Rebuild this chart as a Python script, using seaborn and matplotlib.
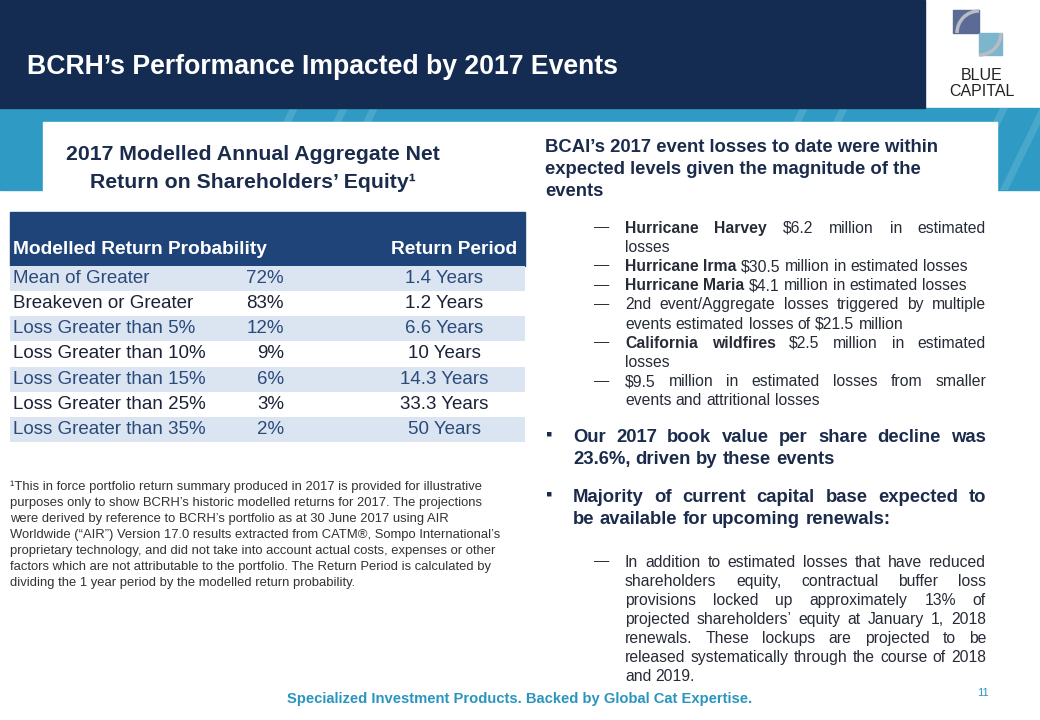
import numpy as np
import pandas as pd
import seaborn as sns
import matplotlib
matplotlib.use("Agg")
import matplotlib.pyplot as plt
from matplotlib.colors import ListedColormap
from matplotlib.patches import Rectangle, Polygon, Arc
from matplotlib.font_manager import FontProperties
from matplotlib.transforms import blended_transform_factory

sns.set_theme(style="white")
plt.rcParams['font.family'] = ['Liberation Sans', 'DejaVu Sans']
plt.rcParams['text.parse_math'] = False

# table data
categories = ["Mean of Greater", "Breakeven or Greater", "Loss Greater than 5%",
              "Loss Greater than 10%", "Loss Greater than 15%", "Loss Greater than 25%",
              "Loss Greater than 35%"]
probabilities = [72, 83, 12, 9, 6, 3, 2]
return_periods = [1.4, 1.2, 6.6, 10, 14.3, 33.3, 50]
col_headers = ["Modelled Return Probability", "Return Period"]

title = "BCRH’s Performance Impacted by 2017 Events"
left_heading = ["2017 Modelled Annual Aggregate Net", "Return on Shareholders’ Equity¹"]
right_heading = ["BCAI’s 2017 event losses to date were within",
                 "expected levels given the magnitude of the", "events"]
footnote = [
    "¹This in force portfolio return summary produced in 2017 is provided for illustrative",
    "purposes only to show BCRH’s historic modelled returns for 2017. The projections",
    "were derived by reference to BCRH’s portfolio as at 30 June 2017 using AIR",
    "Worldwide (“AIR”) Version 17.0 results extracted from CATM®, Sompo International’s",
    "proprietary technology, and did not take into account actual costs, expenses or other",
    "factors which are not attributable to the portfolio. The Return Period is calculated by",
    "dividing the 1 year period by the modelled return probability.",
]
# each item: list of lines, each line a list of (text, bold) segments
loss_items = [
    [[("Hurricane Harvey", True), ("$6.2 million in estimated", False)], [("losses", False)]],
    [[("Hurricane Irma", True), ("$30.5 million in estimated losses", False)]],
    [[("Hurricane Maria", True), ("$4.1 million in estimated losses", False)]],
    [[("2nd event/Aggregate losses triggered by multiple", False)],
     [("events estimated losses of $21.5 million", False)]],
    [[("California wildfires", True), ("$2.5 million in estimated", False)], [("losses", False)]],
    [[("$9.5 million in estimated losses from smaller", False)],
     [("events and attritional losses", False)]],
]
main_bullets = [
    [[("Our 2017 book value per share decline was", True)], [("23.6%, driven by these events", True)]],
    [[("Majority of current capital base expected to", True)],
     [("be available for upcoming renewals:", True)]],
]
lockup_item = [
    [("In addition to estimated losses that have reduced", False)],
    [("shareholders equity, contractual buffer loss", False)],
    [("provisions locked up approximately 13% of", False)],
    [("projected shareholders’ equity at January 1, 2018", False)],
    [("renewals. These lockups are projected to be", False)],
    [("released systematically through the course of 2018", False)],
    [("and 2019.", False)],
]
footer = "Specialized Investment Products. Backed by Global Cat Expertise."

NAVY = "#142b52"
BAND = "#2f9bc4"
HEAD = "#1f4479"
STRIPE = "#dbe5f1"
INK = "#1b2b4b"
BODY = "#262b36"
TEAL = "#2a95bf"

fig = plt.figure(figsize=(10.4, 7.2), dpi=100)
ax = fig.add_axes([0, 0, 1, 1])
ax.set_xlim(0, 1040)
ax.set_ylim(720, 0)
ax.axis('off')
renderer = fig.canvas.get_renderer()


def text_width(s, size, bold):
    fp = FontProperties(family='Liberation Sans', size=size, weight='bold' if bold else 'normal')
    w, h, d = renderer.get_text_width_height_descent(s, fp, ismath=False)
    return w


def draw_line(segs, x0, x1, y, size, justify, color):
    words = [(w, b) for t, b in segs for w in t.split()]
    ws = [text_width(w, size, b) for w, b in words]
    if justify and len(words) > 1:
        gap = (x1 - x0 - sum(ws)) / (len(words) - 1)
    else:
        gap = text_width("x x", size, False) - text_width("xx", size, False)
    base = y + 0.36 * size * 100 / 72
    x = x0
    for (w, b), wd in zip(words, ws):
        ax.text(x, base, w, fontsize=size, fontweight='bold' if b else 'normal',
                color=color, ha='left', va='baseline')
        x += wd + gap


def draw_paragraph(lines, x0, x1, y0, step, size, color):
    for k, segs in enumerate(lines):
        draw_line(segs, x0, x1, y0 + k * step, size, k < len(lines) - 1, color)


# header and band
ax.add_patch(Rectangle((0, 108), 1040, 82, color=BAND, zorder=0))
for x in [250, 300, 330, 760, 800, 960, 1000]:
    ax.add_patch(Polygon([[x, 190], [x + 40, 108], [x + 48, 108], [x + 8, 190]],
                         color='white', alpha=0.12, lw=0, zorder=0))
ax.add_patch(Rectangle((0, 0), 925, 108, color=NAVY, zorder=1))
ax.add_patch(Rectangle((43, 122), 954, 600, color='white', zorder=1))
ax.text(27, 67, title, fontsize=19.2, fontweight='bold', color='white', va='center', zorder=2)

# logo
ax.add_patch(Rectangle((953, 10), 26, 23, color="#5b6b96", zorder=2))
ax.add_patch(Rectangle((979, 33), 23, 22, color="#7db5cd", zorder=2))
ax.add_patch(Arc((979, 33), 44, 44, theta1=180, theta2=270, color="#b8bcc4", lw=2.5, zorder=3))
ax.add_patch(Arc((979, 33), 44, 44, theta1=0, theta2=90, color="#b8bcc4", lw=2.5, zorder=3))
ax.text(982, 75, "BLUE", fontsize=11.5, color="#222222", ha='center', va='center', zorder=2)
ax.text(982, 91, "CAPITAL", fontsize=11.5, color="#222222", ha='center', va='center', zorder=2)

# left heading
for k, line in enumerate(left_heading):
    ax.text(253, 155 + 28 * k, line, fontsize=15.3, fontweight='bold', color=INK,
            ha='center', va='center', zorder=2)

# table header
ax.add_patch(Rectangle((10, 212), 515, 54, color=HEAD, zorder=2))
ax.text(13, 250, col_headers[0], fontsize=13.8, fontweight='bold', color='white',
        va='center', zorder=3)
ax.text(517, 250, col_headers[1], fontsize=13.8, fontweight='bold', color='white',
        ha='right', va='center', zorder=3)

# table body as striped heatmap
stripes = pd.DataFrame({"row": [i % 2 for i in range(len(categories))]}, index=categories)
tax = fig.add_axes([10 / 1040, 1 - 442 / 720, 515 / 1040, 176 / 720])
sns.heatmap(stripes, cmap=ListedColormap([STRIPE, "white"]), vmin=0, vmax=1, cbar=False,
            xticklabels=False, yticklabels=False, ax=tax)
tax.set_xlabel("")
tax.set_ylabel("")
trans = blended_transform_factory(tax.transAxes, tax.transData)
for i, (cat, p, rp) in enumerate(zip(categories, probabilities, return_periods)):
    col = "#2b4a7c" if i % 2 == 0 else "#1a2236"
    tax.text(0.006, i + 0.5, cat, transform=trans, fontsize=13.5, color=col, va='center')
    tax.text(0.532, i + 0.5, f"{p}%", transform=trans, fontsize=13.5, color=col,
             ha='right', va='center')
    tax.text(0.843, i + 0.5, f"{rp:g} Years", transform=trans, fontsize=13.5, color=col,
             ha='center', va='center')

# footnote
for k, line in enumerate(footnote):
    ax.text(10, 487 + 16 * k, line, fontsize=9.4, color="#333333", va='center', zorder=2)

# right column
for k, line in enumerate(right_heading):
    ax.text(545, 147 + 22.5 * k, line, fontsize=13.3, fontweight='bold', color=INK,
            va='center', zorder=2)

y = 227
step = 19.2
for item in loss_items:
    ax.text(602, y, "—", fontsize=11, color=BODY, ha='center', va='center')
    draw_paragraph(item, 625, 986, y, step, 11.3, BODY)
    y += step * len(item)

for y0, item in zip([435, 495], main_bullets):
    ax.text(549, y0, "▪", fontsize=13, color=INK, ha='center', va='center')
    draw_paragraph(item, 573, 986, y0, 22.5, 13.3, INK)

ax.text(602, 561, "—", fontsize=11, color=BODY, ha='center', va='center')
draw_paragraph(lockup_item, 625, 986, 561, 19.0, 11.3, BODY)

# footer
ax.text(520, 699, footer, fontsize=10.6, fontweight='bold', color=TEAL, ha='center', va='center')
ax.text(983, 693, "11", fontsize=8, color=TEAL, ha='center', va='center')

fig.savefig("out.png", dpi=100)
